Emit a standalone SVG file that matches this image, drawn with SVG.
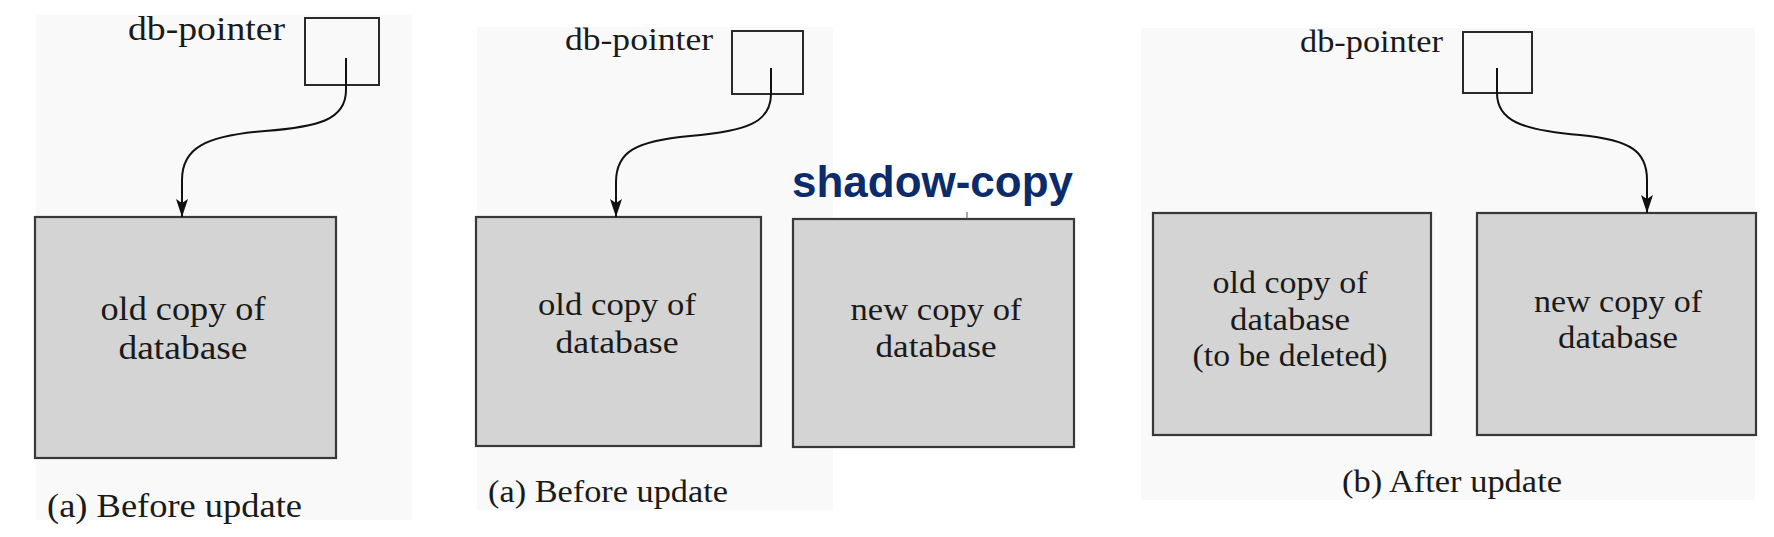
<svg xmlns="http://www.w3.org/2000/svg" width="1774" height="537" viewBox="0 0 1774 537">
<style>
.bg{fill:#f9f9f9;stroke:none}
.db{fill:#d4d4d4;stroke:#383838;stroke-width:2.2}
.ptr{fill:none;stroke:#2a2a2a;stroke-width:2}
.t{font-family:"Liberation Serif","Times New Roman",serif;fill:#1a1a1a}
.c{text-anchor:middle}
.conn{fill:none;stroke:#111;stroke-width:2}
.sc{font-family:"Liberation Sans",Arial,sans-serif;font-weight:bold;font-size:44px;fill:#0b2b6b}
</style>
<defs>
<marker id="ah" markerWidth="20" markerHeight="14" refX="18" refY="7" orient="auto" markerUnits="userSpaceOnUse">
<path d="M0,1 L18,7 L0,13 L4,7 Z" fill="#111"/>
</marker>
</defs>
<rect width="1774" height="537" fill="#ffffff"/>
<rect class="bg" x="36" y="15" width="376" height="505"/>
<rect class="bg" x="477" y="27" width="356" height="483"/>
<rect class="bg" x="1141" y="28" width="614" height="472"/>

<g id="p1-pointer">
<text class="t" x="128" y="40" font-size="33" textLength="157" lengthAdjust="spacingAndGlyphs">db-pointer</text>
<rect class="ptr" x="305" y="18" width="74" height="67"/>
</g>
<g id="p1-old">
<rect class="db" x="35" y="217" width="301" height="241"/>
<text class="t c" x="183" y="320" font-size="33" textLength="165" lengthAdjust="spacingAndGlyphs">old copy of</text>
<text class="t c" x="183" y="359" font-size="33" textLength="129" lengthAdjust="spacingAndGlyphs">database</text>
</g>
<g id="p1-caption">
<text class="t" x="47" y="517" font-size="33" textLength="255" lengthAdjust="spacingAndGlyphs">(a) Before update</text>
</g>

<g id="p2-pointer">
<text class="t" x="565" y="50" font-size="32" textLength="148" lengthAdjust="spacingAndGlyphs">db-pointer</text>
<rect class="ptr" x="732" y="31" width="71" height="63"/>
</g>
<g id="p2-old">
<rect class="db" x="476" y="217" width="285" height="229"/>
<text class="t c" x="617" y="315" font-size="32" textLength="158" lengthAdjust="spacingAndGlyphs">old copy of</text>
<text class="t c" x="617" y="353" font-size="32" textLength="123" lengthAdjust="spacingAndGlyphs">database</text>
</g>
<g id="p2-new">
<rect class="db" x="793" y="219" width="281" height="228"/>
<line x1="967" y1="212" x2="967" y2="219" stroke="#555" stroke-width="1"/>
<text class="t c" x="936" y="320" font-size="32" textLength="171" lengthAdjust="spacingAndGlyphs">new copy of</text>
<text class="t c" x="936" y="357" font-size="32" textLength="121" lengthAdjust="spacingAndGlyphs">database</text>
</g>
<g id="p2-title">
<text class="sc" x="792" y="197" textLength="281" lengthAdjust="spacingAndGlyphs">shadow-copy</text>
</g>
<g id="p2-caption">
<text class="t" x="488" y="502" font-size="32" textLength="240" lengthAdjust="spacingAndGlyphs">(a) Before update</text>
</g>

<g id="p3-pointer">
<text class="t" x="1300" y="52" font-size="31" textLength="143" lengthAdjust="spacingAndGlyphs">db-pointer</text>
<rect class="ptr" x="1463" y="32" width="69" height="61"/>
</g>
<g id="p3-old">
<rect class="db" x="1153" y="213" width="278" height="222"/>
<text class="t c" x="1290" y="293" font-size="31" textLength="155" lengthAdjust="spacingAndGlyphs">old copy of</text>
<text class="t c" x="1290" y="330" font-size="31" textLength="120" lengthAdjust="spacingAndGlyphs">database</text>
<text class="t c" x="1290" y="366" font-size="31" textLength="195" lengthAdjust="spacingAndGlyphs">(to be deleted)</text>
</g>
<g id="p3-new">
<rect class="db" x="1477" y="213" width="279" height="222"/>
<text class="t c" x="1618" y="312" font-size="31" textLength="168" lengthAdjust="spacingAndGlyphs">new copy of</text>
<text class="t c" x="1618" y="348" font-size="31" textLength="120" lengthAdjust="spacingAndGlyphs">database</text>
</g>
<g id="p3-caption">
<text class="t" x="1342" y="492" font-size="31" textLength="220" lengthAdjust="spacingAndGlyphs">(b) After update</text>
</g>

<g id="connectors">
<path class="conn" marker-end="url(#ah)" d="M346,58 V90 C346,120 318,127 265,131 C205,136 182,148 182,180 V217"/>
<path class="conn" marker-end="url(#ah)" d="M771,68 V94 C771,122 748,131 690,136 C635,141 616,152 616,182 V217"/>
<path class="conn" marker-end="url(#ah)" d="M1497,68 V93 C1497,120 1520,130 1580,135 C1632,140 1647,152 1647,180 V213"/>
</g>
</svg>
